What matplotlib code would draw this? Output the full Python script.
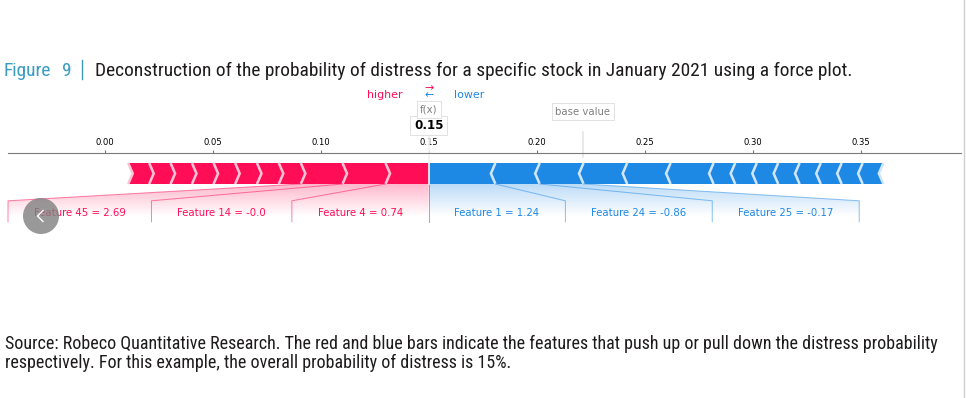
import numpy as np
import matplotlib
matplotlib.use("Agg")
import matplotlib.pyplot as plt
from matplotlib import font_manager
from matplotlib.lines import Line2D
from matplotlib.colors import LinearSegmentedColormap
from matplotlib.path import Path
from matplotlib.patches import PathPatch, Polygon, Ellipse
from matplotlib.ticker import FormatStrFormatter

plt.rcParams["font.family"] = "DejaVu Sans"

# shap values
base_value = 0.2214
pos_effects = [0.0200, 0.0199, 0.0193, 0.0102, 0.0101, 0.0101, 0.0100, 0.0100, 0.0099, 0.0099, 0.0097]
pos_names = ["Feature 4", "Feature 14", "Feature 45"]
pos_values = ["0.74", "-0.0", "2.69"]
neg_effects = [-0.0309, -0.0205, -0.0203, -0.0202, -0.0201, -0.0199,
               -0.0100, -0.0100, -0.0099, -0.0099, -0.0098, -0.0097, -0.0097, -0.0096]
neg_names = ["Feature 1", "Feature 24", "Feature 25"]
neg_values = ["1.24", "-0.86", "-0.17"]
tick_values = [0.00, 0.05, 0.10, 0.15, 0.20, 0.25, 0.30, 0.35]

fig_label = "Figure"
fig_number = "9"
title_text = "Deconstruction of the probability of distress for a specific stock in January 2021 using a force plot."
source_lines = ["Source: Robeco Quantitative Research. The red and blue bars indicate the features that push up or pull down the distress probability",
                "respectively. For this example, the overall probability of distress is 15%."]

RED, RED_LIGHT = "#FF0D57", "#FFC3D5"
BLUE, BLUE_LIGHT = "#1E88E5", "#D1E6FA"
TEAL = "#3a9bc1"
INK = "#1e1b1c"
S = 0.61  # shap draws on a 20 inch canvas, the screenshot is scaled down

out_value = base_value + sum(pos_effects) + sum(neg_effects)
pos_bounds = out_value - np.cumsum(pos_effects)
neg_bounds = out_value + np.cumsum(np.abs(neg_effects))
total_pos = pos_bounds.max() - pos_bounds.min()
total_neg = neg_bounds.max() - neg_bounds.min()
total_effect = total_pos + total_neg
offset_text = total_effect * 0.04
min_perc = 0.05

W, H = 966, 398
fig = plt.figure(figsize=(W / 100, H / 100), dpi=100)
ax = fig.add_axes([8 / W, 1 - 289 / H, (961 - 8) / W, (289 - 152.5) / H])
ax.set_ylim(-0.5, 0.15)
renderer = fig.canvas.get_renderer()

padding = max(total_pos, total_neg) * 0.2
x0 = min(pos_bounds.min(), base_value) - padding
x1 = max(neg_bounds.max(), base_value) + padding
ax.set_xlim(x0, x1)
width_sep = (x1 - x0) / 200
wb = 0.1


def draw_bars(bounds, positive):
    color, light = (RED, RED_LIGHT) if positive else (BLUE, BLUE_LIGHT)
    ind = width_sep if positive else -width_sep
    pre = out_value
    bars, seps = [], []
    for i, b in enumerate(bounds):
        left, right = (b, pre) if positive else (pre, b)
        pre = b
        sep = left if positive else right
        if i == 0:
            if positive:
                pts = [[left, 0], [right, 0], [right, wb], [left, wb], [left + ind, wb / 2]]
            else:
                pts = [[right, 0], [left, 0], [left, wb], [right, wb], [right + ind, wb / 2]]
        else:
            pts = [[left, 0], [right, 0], [right + ind * 0.9, wb / 2],
                   [right, wb], [left, wb], [left + ind * 0.9, wb / 2]]
        bars.append(Polygon(pts, closed=True, fill=True, facecolor=color, linewidth=0))
        seps.append(Polygon([[sep, 0], [sep + ind, wb / 2], [sep, wb]], closed=False,
                            fill=False, edgecolor=light, lw=3 * S))
    for p in bars + seps:
        ax.add_patch(p)


draw_bars(neg_bounds, False)
draw_bars(pos_bounds, True)


def layout(bounds, names, values, sign, lim):
    ax.set_xlim(*lim)
    inv = ax.transData.inverted()
    start = pre = box_end = out_value
    items = []
    for b, name, val in zip(bounds, names, values):
        if abs(b - pre) / total_effect < min_perc:
            break
        s = name + " = " + val
        x = start - sign * offset_text
        t = ax.text(x, -0.15, s, fontsize=12 * S, ha="right" if sign > 0 else "left")
        bb = t.get_window_extent(renderer).transformed(inv)
        t.remove()
        edge = bb.x0 if sign > 0 else bb.x1
        if edge > lim[1]:
            break
        if sign * edge > sign * b:
            items.append((x, s, b, None))
            start = box_end = b
        else:
            box_end = edge - sign * offset_text
            items.append((x, s, b, box_end))
            start = box_end
        pre = b
    return items, pre, box_end


lim = (x0, x1)
for _ in range(5):
    neg_lab = layout(neg_bounds, neg_names, neg_values, -1, lim)
    pos_lab = layout(pos_bounds, pos_names, pos_values, 1, lim)
    lim = (min(x0, pos_lab[2]), max(x1, neg_lab[2]))
ax.set_xlim(*lim)


def draw_labels(lab, sign, color):
    items, pre, box_end = lab
    kw = dict(lw=S * 1.2, alpha=0.5, color=color, clip_on=False)
    if sign > 0:
        ax.add_line(Line2D([out_value, out_value], [0, -0.18], **kw))
    for x, s, b, be in items:
        ax.text(x, -0.15, s, fontsize=12 * S, color=color,
                ha="right" if sign > 0 else "left", va="baseline")
        if be is None:
            ax.add_line(Line2D([b, b], [0, -0.18], **kw))
        else:
            ax.add_line(Line2D([b, be, be], [0, -0.08, -0.18], **kw))
    path = Path([[out_value, 0], [pre, 0], [box_end, -0.08], [box_end, -0.2],
                 [out_value, -0.2], [out_value, 0]])
    patch = PathPatch(path, facecolor="none", edgecolor="none")
    ax.add_patch(patch)
    cm = LinearSegmentedColormap.from_list("cm", [color, "white"])
    _, Z2 = np.meshgrid(np.linspace(0, 10), np.linspace(-10, 10))
    im = ax.imshow(Z2, interpolation="quadric", cmap=cm, vmax=0.01, alpha=0.3,
                   origin="lower", extent=[out_value, box_end, 0, -0.31], aspect="auto")
    im.set_clip_path(patch)


draw_labels(neg_lab, -1, BLUE)
draw_labels(pos_lab, 1, RED)

# higher / lower legend
ax.text(out_value - offset_text, 0.41, "higher", fontsize=13 * S, color=RED, ha="right")
ax.text(out_value + offset_text, 0.41, "lower", fontsize=13 * S, color=BLUE, ha="left")
ax.text(out_value, 0.416, r"$\leftarrow$", fontsize=13 * S, color=BLUE, ha="center")
ax.text(out_value, 0.448, r"$\rightarrow$", fontsize=13 * S, color=RED, ha="center")

box = dict(facecolor="white", edgecolor="#dcdcdc", linewidth=0.6, pad=4 * S)
# base value
ax.add_line(Line2D([base_value, base_value], [0.13, 0.25], lw=2 * S, color="#E6E6E6", clip_on=False))
ax.text(base_value, 0.33, "base value", fontsize=12 * S, alpha=0.5, ha="center", bbox=box)
# output value
ax.add_line(Line2D([out_value, out_value], [0, 0.24], lw=2 * S, color="#F2F2F2", clip_on=False))
ax.text(out_value, 0.262, "{0:.2f}".format(out_value), fontsize=14 * S, weight="bold",
        ha="center", bbox=box)
ax.text(out_value, 0.34, "f(x)", fontsize=12 * S, alpha=0.5, ha="center", bbox=box)

ax.set_xticks(tick_values)
ax.xaxis.set_major_formatter(FormatStrFormatter("%.2f"))
ax.set_yticks([])
ax.tick_params(top=True, bottom=False, left=False, right=False, labelleft=False,
               labeltop=True, labelbottom=False, labelsize=10 * S, length=3.5 * S,
               width=0.8, pad=2.5 * S, color="#777777")
for k, sp in ax.spines.items():
    sp.set_visible(k == "top")
ax.spines["top"].set_color("#7a7a7a")
ax.spines["top"].set_linewidth(0.8)
ax.set_ylim(-0.5, 0.15)


# caption text around the plot
def caption_font():
    fams = {f.name for f in font_manager.fontManager.ttflist}
    for name in ["Liberation Sans Narrow", "DejaVu Sans Condensed", "Roboto Condensed",
                 "Noto Sans Condensed", "Open Sans Condensed"]:
        if name in fams:
            return name
    return "Liberation Sans"


cap = caption_font()


def fx(px):
    return px / W


def fy(py):
    return 1 - py / H


def fit(t, width_px):
    w = t.get_window_extent(renderer).width
    t.set_fontsize(t.get_fontsize() * width_px / w)


t = fig.text(fx(95), fy(75.5), title_text, family=cap, fontsize=14, color=INK, va="baseline")
fit(t, 857.7 - 95)
fs = t.get_fontsize()
fig.text(fx(3.3), fy(75.5), fig_label, family=cap, fontsize=fs, color=TEAL, va="baseline")
fig.text(fx(61.7), fy(75.5), fig_number, family=cap, fontsize=fs, color=TEAL, va="baseline")
fig.add_artist(Line2D([fx(81.7), fx(81.7)], [fy(60), fy(78.5)], lw=1.0, color=TEAL))

s1 = fig.text(fx(5), fy(349), source_lines[0], family=cap, fontsize=12, color=INK, va="baseline")
fit(s1, 937 - 5)
fig.text(fx(5), fy(368), source_lines[1], family=cap, fontsize=s1.get_fontsize(), color=INK, va="baseline")

# viewer frame edge and the slide-back button over the screenshot
fig.add_artist(Line2D([fx(963.5), fx(963.5)], [0, 1], lw=1.0, color="#cfcfcf"))
fig.add_artist(Ellipse((fx(41), fy(216)), 36 / W, 36 / H, transform=fig.transFigure,
                       facecolor="#808080", alpha=0.8, edgecolor="none"))
fig.add_artist(Line2D([fx(43), fx(37.5), fx(43)], [fy(210.5), fy(216), fy(221.5)],
                      lw=1.0, color="white"))

fig.savefig("out.png", dpi=100)
